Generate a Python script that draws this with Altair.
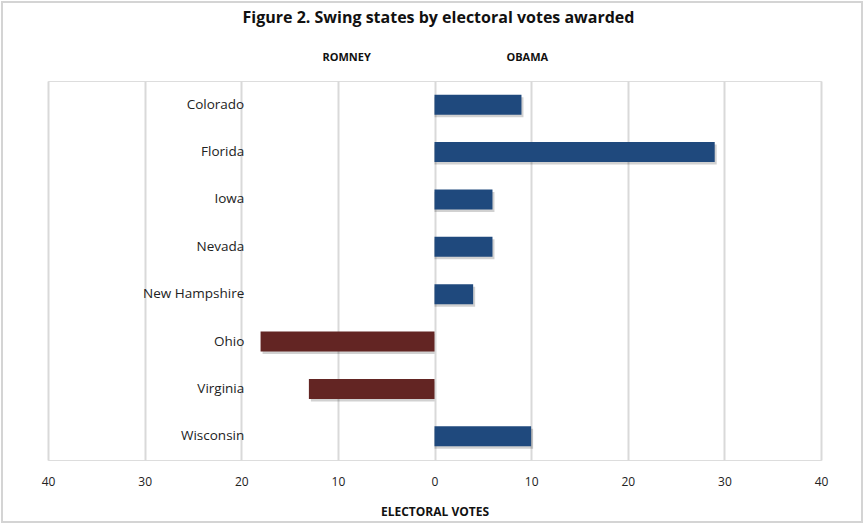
import altair as alt
import pandas as pd

# Electoral votes won in each swing state (negative = Romney, positive = Obama)
states = ["Colorado", "Florida", "Iowa", "Nevada", "New Hampshire", "Ohio", "Virginia", "Wisconsin"]
votes = [9, 29, 6, 6, 4, -18, -13, 10]
winners = ["Obama", "Obama", "Obama", "Obama", "Obama", "Romney", "Romney", "Obama"]

side_labels = ["ROMNEY", "OBAMA"]
side_pos = [-9.1, 9.6]

tick_values = [-40, -30, -20, -10, 0, 10, 20, 30, 40]

TITLE = "Figure 2. Swing states by electoral votes awarded"

FONT = "Open Sans"
BLUE = "#1f497d"
RED = "#632523"

df = pd.DataFrame({"state": states, "votes": votes, "winner": winners})
sides = pd.DataFrame({"label": side_labels, "pos": side_pos})

W, H = 773, 379

x_scale = alt.Scale(domain=[-40, 40], nice=False, zero=False)
y_enc = alt.Y("state:N", sort=states, axis=None,
              scale=alt.Scale(paddingInner=0.58, paddingOuter=0.29))

base = alt.Chart(df)
one_row = alt.Chart(sides).transform_filter(alt.datum.label == "ROMNEY")

# frame drawn around the whole figure
frame = one_row.mark_rect(
    fill=None, stroke="#d4d4d4", strokeWidth=2
).encode(
    x=alt.value(-46), x2=alt.value(W + 41),
    y=alt.value(-79), y2=alt.value(H + 62)
)

title = one_row.mark_text(font=FONT, fontSize=16, fontWeight="bold",
                          color="#111111", baseline="middle").encode(
    x=alt.value(W / 2 + 4),
    y=alt.value(-63),
    text=alt.value(TITLE),
)

shadow = base.mark_bar(color="#000000", opacity=0.18, xOffset=2, yOffset=2.5).encode(
    x=alt.X("votes:Q", scale=x_scale,
            axis=alt.Axis(values=tick_values, labelExpr="abs(datum.value)",
                          title="ELECTORAL VOTES", grid=True, gridColor="#d9d9d9",
                          gridWidth=2, domain=False, ticks=False, labelPadding=16,
                          labelFlush=False, labelBound=False,
                          labelFont=FONT, labelFontSize=12, labelColor="#222222",
                          titleFont=FONT, titleFontSize=12, titleFontWeight="bold",
                          titleColor="#111111", titlePadding=19)),
    x2=alt.datum(0),
    y=y_enc,
)

bars = base.mark_bar().encode(
    x=alt.X("votes:Q", scale=x_scale),
    x2=alt.datum(0),
    y=y_enc,
    color=alt.Color("winner:N", scale=alt.Scale(domain=["Obama", "Romney"], range=[BLUE, RED]),
                    legend=None),
)

names = base.mark_text(align="right", baseline="middle", font=FONT, fontSize=13.5,
                       color="#222222", dx=3).encode(
    x=alt.datum(-20),
    y=alt.Y("state:N", sort=states, axis=None),
    text="state:N",
)

side_text = alt.Chart(sides).mark_text(font=FONT, fontSize=11, fontWeight="bold",
                                       color="#111111", baseline="middle").encode(
    x=alt.X("pos:Q", scale=x_scale),
    y=alt.value(-23),
    text="label:N",
)

chart = alt.layer(frame, title, shadow, bars, names, side_text).properties(
    width=W, height=H,
    autosize=alt.AutoSizeParams(type="none"),
    padding={"left": 48, "top": 81, "right": 44, "bottom": 65},
).configure_view(stroke=None).configure(background="white")

chart.save("out.html", embed_options={"renderer": "svg", "actions": False})
